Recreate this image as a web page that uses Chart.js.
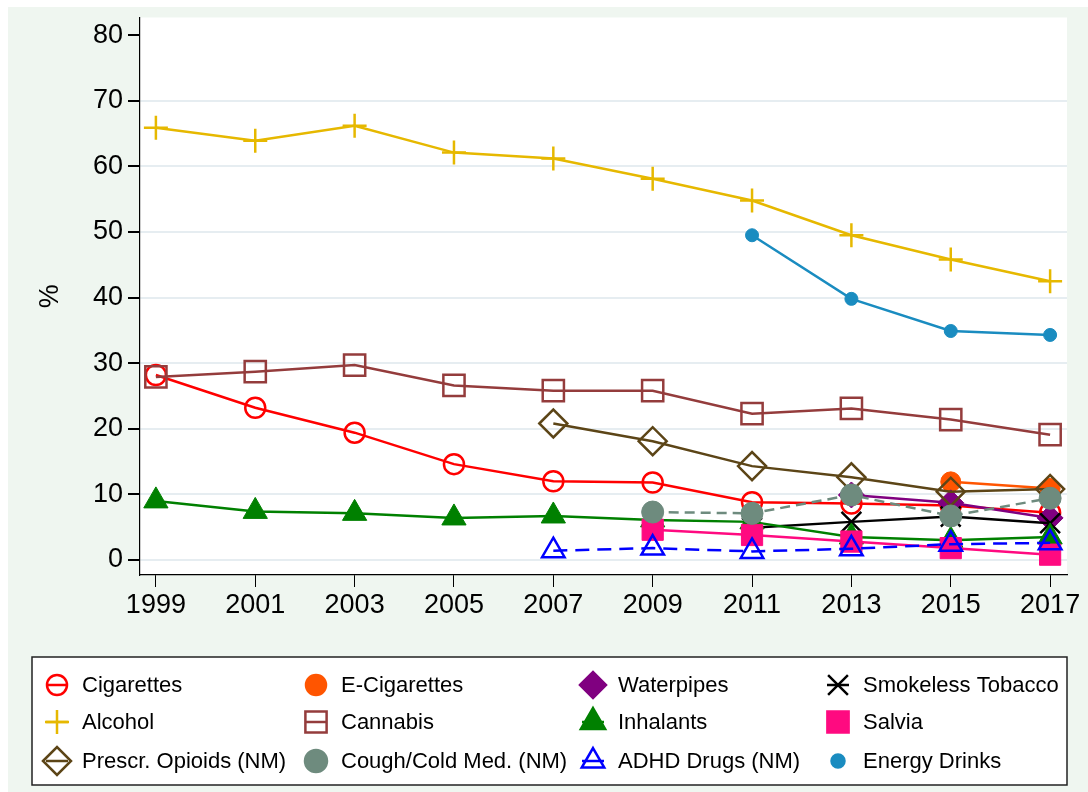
<!DOCTYPE html>
<html>
<head>
<meta charset="utf-8">
<script src="https://cdn.jsdelivr.net/npm/chart.js@4.4.1/dist/chart.umd.min.js"></script>
<style>
  body { margin: 0; background: #fff; }
  #wrap { width: 1088px; height: 792px; position: relative; }
</style>
</head>
<body>
<div id="wrap"><canvas id="canvas"></canvas></div>
<script>
// ---------- data ----------
const years = [1999, 2001, 2003, 2005, 2007, 2009, 2011, 2013, 2015, 2017]
const yTicks = [0, 10, 20, 30, 40, 50, 60, 70, 80]

const cigarettes   = [28.2, 23.2, 19.4, 14.6, 12.0, 11.8, 8.8, 8.6, 8.3, 7.2]
const eCigarettes  = [null, null, null, null, null, null, null, null, 11.9, 10.9]
const waterpipes   = [null, null, null, null, null, null, null, 9.9, 8.7, 6.4]
const smokeless    = [null, null, null, null, null, null, 4.9, 5.8, 6.6, 5.6]
const alcohol      = [65.9, 63.9, 66.2, 62.1, 61.2, 58.1, 54.8, 49.5, 45.8, 42.5]
const cannabis     = [27.9, 28.7, 29.7, 26.6, 25.8, 25.8, 22.3, 23.1, 21.4, 19.1]
const inhalants    = [9.0, 7.4, 7.1, 6.4, 6.7, 6.1, 5.8, 3.5, 3.0, 3.5]
const salvia       = [null, null, null, null, null, 4.6, 3.8, 2.8, 1.8, 0.8]
const opioids      = [null, null, null, null, 20.8, 18.1, 14.3, 12.6, 10.4, 10.8]
const coughCold    = [null, null, null, null, null, 7.3, 7.1, 9.9, 6.7, 9.4]
const adhd         = [null, null, null, null, 1.4, 1.8, 1.3, 1.7, 2.4, 2.6]
const energyDrinks = [null, null, null, null, null, null, 49.5, 39.8, 34.9, 34.3]

// ---------- series looks (label, values, colour, marker) ----------
const series = [
  { label: 'Cigarettes', data: cigarettes, color: '#ff0000', style: 'circle', r: 10, open: true },
  { label: 'E-Cigarettes', data: eCigarettes, color: '#ff5500', style: 'circle', r: 10 },
  { label: 'Waterpipes', data: waterpipes, color: '#800080', style: 'rectRot', r: 13 },
  { label: 'Smokeless Tobacco', data: smokeless, color: '#000000', style: 'crossRot', r: 14, open: true },
  { label: 'Alcohol', data: alcohol, color: '#e6b800', style: 'cross', r: 12, open: true },
  { label: 'Cannabis', data: cannabis, color: '#943c3c', style: 'rect', r: 15, open: true },
  { label: 'Inhalants', data: inhalants, color: '#008000', style: 'triangle', r: 14 },
  { label: 'Salvia', data: salvia, color: '#ff0a80', style: 'rect', r: 15 },
  { label: 'Prescr. Opioids (NM)', data: opioids, color: '#5c4517', style: 'rectRot', r: 14, open: true },
  { label: 'Cough/Cold Med. (NM)', data: coughCold, color: '#6e8b7e', style: 'circle', r: 11, dash: [10, 6] },
  { label: 'ADHD Drugs (NM)', data: adhd, color: '#0000ff', style: 'triangle', r: 13, open: true, dash: [14, 8] },
  { label: 'Energy Drinks', data: energyDrinks, color: '#1a8cc0', style: 'circle', r: 6.5 }
]

const datasets = series.map((s, i) => ({
  label: s.label,
  data: years.map((yr, k) => ({ x: yr, y: s.data[k] })).filter(p => p.y !== null),
  borderColor: s.color,
  backgroundColor: s.open ? 'rgba(0,0,0,0)' : s.color,
  borderWidth: 2.5,
  borderDash: s.dash || [],
  pointStyle: s.style,
  pointRadius: s.r,
  pointBorderWidth: s.open ? 2.5 : 1,
  pointBorderColor: s.color,
  pointBackgroundColor: s.open ? 'rgba(0,0,0,0)' : s.color,
  tension: 0,
  order: series.length - i
}))

// ---------- background: mint frame, white plot area ----------
const background = {
  id: 'background',
  beforeDraw(chart) {
    const ctx = chart.ctx
    const a = chart.chartArea
    ctx.save()
    ctx.fillStyle = '#ffffff'
    ctx.fillRect(0, 0, chart.width, chart.height)
    ctx.fillStyle = '#eff6f0'
    ctx.fillRect(8, 7, chart.width - 8, chart.height - 7)
    ctx.fillStyle = '#ffffff'
    ctx.fillRect(a.left, a.top, a.right - a.left, a.bottom - a.top)
    ctx.restore()
  }
}

// ---------- legend in a 4-column grid like the original ----------
const gridLegend = {
  id: 'gridLegend',
  afterDraw(chart) {
    const ctx = chart.ctx
    const colX = [57, 316, 593, 838]
    const rowY = [685, 722, 761]
    ctx.save()
    ctx.fillStyle = '#ffffff'
    ctx.fillRect(32, 657, 1035, 128)
    ctx.strokeStyle = '#222'
    ctx.lineWidth = 1.5
    ctx.strokeRect(32, 657, 1035, 128)
    series.forEach((s, i) => {
      const x = colX[i % 4]
      const y = rowY[Math.floor(i / 4)]
      const r = s.r
      ctx.strokeStyle = s.color
      ctx.fillStyle = s.open ? 'rgba(0,0,0,0)' : s.color
      ctx.lineWidth = 2.5
      ctx.setLineDash([])
      ctx.beginPath()
      ctx.moveTo(x - Math.min(r, 11), y)
      ctx.lineTo(x + Math.min(r, 11), y)
      ctx.stroke()
      Chart.helpers.drawPoint(ctx, { pointStyle: s.style, radius: r, rotation: 0, borderWidth: s.open ? 2.5 : 1 }, x, y)
      ctx.fillStyle = '#000000'
      ctx.font = '22px "Liberation Sans", Arial, sans-serif'
      ctx.textBaseline = 'middle'
      ctx.textAlign = 'left'
      ctx.fillText(s.label, x + 25, y + 1)
    })
    ctx.restore()
  }
}

const tickFont = { family: '"Liberation Sans", Arial, sans-serif', size: 27 }

new Chart(document.getElementById('canvas'), {
  type: 'line',
  data: { datasets: datasets },
  options: {
    responsive: true,
    maintainAspectRatio: false,
    animation: false,
    layout: { padding: { left: 0, top: 15, right: 21, bottom: 177 } },
    plugins: { legend: { display: false }, tooltip: { enabled: false } },
    scales: {
      x: {
        type: 'linear',
        min: 1998.68,
        max: 2017.34,
        afterBuildTicks: scale => { scale.ticks = years.map(v => ({ value: v })) },
        afterFit: scale => { scale.height = 40; scale.paddingLeft = 0; scale.paddingRight = 0 },
        ticks: { font: tickFont, color: '#000', padding: 2, autoSkip: false, maxRotation: 0, callback: v => String(v) },
        grid: { color: 'rgba(0,0,0,0)', tickColor: '#000', tickLength: 12, drawTicks: true },
        border: { display: true, color: '#000', width: 1.2 }
      },
      y: {
        min: -2.3,
        max: 82.7,
        afterBuildTicks: scale => { scale.ticks = yTicks.map(v => ({ value: v })) },
        afterFit: scale => { scale.width = 140; scale.paddingTop = 0; scale.paddingBottom = 0 },
        ticks: { font: tickFont, color: '#000', padding: 5 },
        grid: {
          color: c => (c.tick && c.tick.value === 80) ? 'rgba(0,0,0,0)' : '#e6edf1',
          lineWidth: 2,
          tickColor: '#000',
          tickLength: 12
        },
        border: { display: true, color: '#000', width: 1.2 },
        title: { display: true, text: '%', font: tickFont, color: '#000', padding: { top: 34, bottom: 0 } }
      }
    }
  },
  plugins: [background, gridLegend]
})
</script>
</body>
</html>
